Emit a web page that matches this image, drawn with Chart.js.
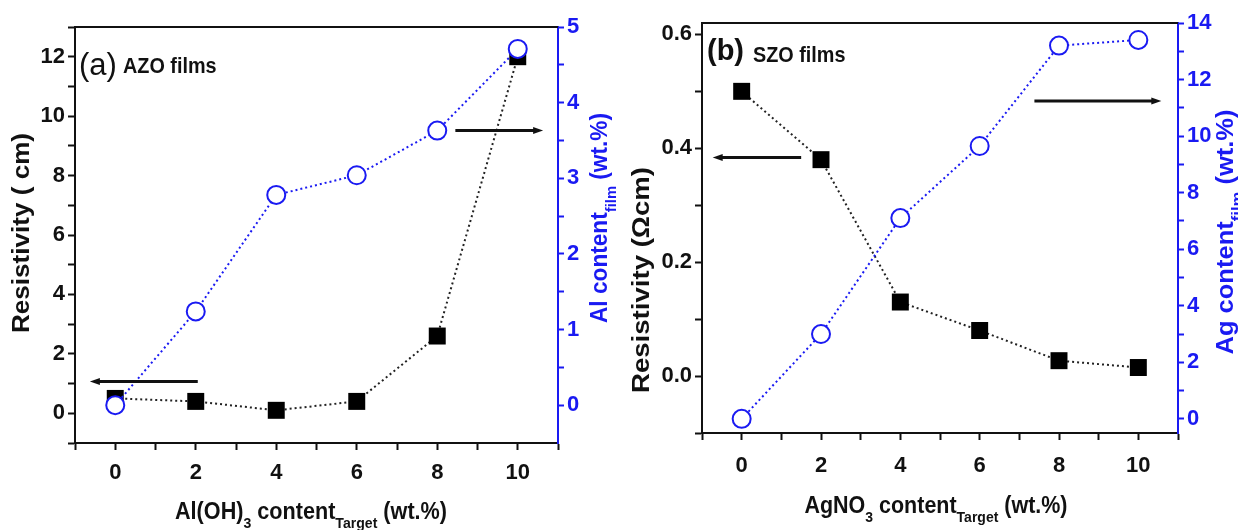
<!DOCTYPE html>
<html>
<head>
<meta charset="utf-8">
<script src="https://cdn.jsdelivr.net/npm/chart.js@4.4.1/dist/chart.umd.min.js"></script>
<style>
  html, body { margin: 0; padding: 0; background: #fff; }
  #wrap { position: relative; width: 1238px; height: 530px; }
  canvas { position: absolute; top: 0; }
  #chartA { left: 0; }
  #chartB { left: 619px; }
</style>
</head>
<body>
<div id="wrap">
  <canvas id="chartA" width="619" height="530"></canvas>
  <canvas id="chartB" width="619" height="530"></canvas>
</div>
<script>
const xValues = [0, 2, 4, 6, 8, 10];

const azoResistivity = [0.5, 0.4, 0.1, 0.4, 2.6, 12];
const azoAlContent = [0, 1.24, 2.78, 3.04, 3.63, 4.71];

const szoResistivity = [0.5, 0.38, 0.13, 0.08, 0.027, 0.015];
const szoAgContent = [0, 3.0, 7.1, 9.65, 13.2, 13.4];

// tick positions (minor + major) and the ones that get a label
const xTicks = [-1, 0, 1, 2, 3, 4, 5, 6, 7, 8, 9, 10, 11];
const xTickLabels = [0, 2, 4, 6, 8, 10];
const azoResTicks = [-1, 0, 1, 2, 3, 4, 5, 6, 7, 8, 9, 10, 11, 12, 13];
const azoResLabels = [0, 2, 4, 6, 8, 10, 12];
const azoAlTicks = [0, 0.5, 1, 1.5, 2, 2.5, 3, 3.5, 4, 4.5, 5];
const azoAlLabels = [0, 1, 2, 3, 4, 5];
const szoResTicks = [-0.1, 0, 0.1, 0.2, 0.3, 0.4, 0.5, 0.6];
const szoResLabels = [0, 0.2, 0.4, 0.6];
const szoAgTicks = [0, 1, 2, 3, 4, 5, 6, 7, 8, 9, 10, 11, 12, 13, 14];
const szoAgLabels = [0, 2, 4, 6, 8, 10, 12, 14];

// arrows in data units: from x0 to x1 at height y on the given axis
const azoArrows = [
  { x0: 2.05, x1: -0.63, y: 1.07, axis: "y" },
  { x0: 8.45, x1: 10.63, y: 3.63, axis: "y1" },
];
const szoArrows = [
  { x0: 1.5, x1: -0.73, y: 0.384, axis: "y" },
  { x0: 7.38, x1: 10.58, y: 11.24, axis: "y1" },
];

const FONT = '"Liberation Sans", Arial, sans-serif';
const BLUE = "#1a1af2";

function points(ys) {
  return xValues.map((x, i) => ({ x: x, y: ys[i] }));
}

function hasLabel(list, v) {
  return list.some((l) => Math.abs(l - v) < 1e-9);
}

// text with subscripts, stretched along its direction to a given length
function drawRich(ctx, parts, x, y, angle, color, len) {
  ctx.save();
  ctx.translate(x, y);
  ctx.rotate(angle);
  ctx.fillStyle = color;
  ctx.textBaseline = "alphabetic";
  ctx.textAlign = "left";
  let w = 0;
  parts.forEach((p) => {
    ctx.font = p[1] ? "bold 15px " + FONT : "bold 23px " + FONT;
    w += ctx.measureText(p[0]).width;
  });
  if (len) ctx.scale(len / w, 1);
  let cx = -w / 2;
  parts.forEach((p) => {
    ctx.font = p[1] ? "bold 15px " + FONT : "bold 23px " + FONT;
    ctx.fillText(p[0], cx, p[1] ? 9 : 0);
    cx += ctx.measureText(p[0]).width;
  });
  ctx.restore();
}

function drawArrow(ctx, xa, xb, y) {
  const dir = xb > xa ? 1 : -1;
  ctx.save();
  ctx.strokeStyle = "#111";
  ctx.fillStyle = "#111";
  ctx.lineWidth = 3;
  ctx.beginPath();
  ctx.moveTo(xa, y);
  ctx.lineTo(xb - dir * 6, y);
  ctx.stroke();
  ctx.beginPath();
  ctx.moveTo(xb, y);
  ctx.lineTo(xb - dir * 10, y - 3.5);
  ctx.lineTo(xb - dir * 10, y + 3.5);
  ctx.closePath();
  ctx.fill();
  ctx.restore();
}

const decorations = {
  id: "decorations",
  afterDraw(chart, args, opts) {
    const ctx = chart.ctx;
    const area = chart.chartArea;
    const sx = chart.scales.x;

    // top frame line
    ctx.save();
    ctx.strokeStyle = "#111";
    ctx.lineWidth = 2;
    ctx.beginPath();
    ctx.moveTo(area.left, area.top);
    ctx.lineTo(area.right, area.top);
    ctx.stroke();
    ctx.restore();

    opts.arrows.forEach((a) => {
      const sy = chart.scales[a.axis];
      drawArrow(ctx, sx.getPixelForValue(a.x0), sx.getPixelForValue(a.x1), sy.getPixelForValue(a.y));
    });

    // panel label
    ctx.save();
    ctx.fillStyle = "#111";
    ctx.font = opts.tag.font + " " + FONT;
    ctx.fillText(opts.tag.text, opts.tag.x, opts.tag.y);
    ctx.translate(opts.name.x, opts.name.y);
    ctx.scale(0.9, 1);
    ctx.font = "bold 22px " + FONT;
    ctx.fillText(opts.name.text, 0, 0);
    ctx.restore();

    const t = opts.titles;
    drawRich(ctx, t.x.parts, t.x.x, t.x.y, 0, "#111", t.x.len);
    drawRich(ctx, t.y.parts, t.y.x, t.y.y, -Math.PI / 2, "#111", t.y.len);
    drawRich(ctx, t.y1.parts, t.y1.x, t.y1.y, -Math.PI / 2, BLUE, t.y1.len);
  },
};

function makePanel(id, p) {
  const tickFont = { family: FONT, size: 22, weight: "bold" };
  return new Chart(id, {
    type: "line",
    data: {
      datasets: [
        {
          data: points(p.content),
          yAxisID: "y1",
          borderColor: BLUE,
          borderWidth: 2,
          borderDash: [2, 3],
          tension: 0,
          pointStyle: "circle",
          pointRadius: 9,
          pointBorderWidth: 2,
          pointBorderColor: BLUE,
          pointBackgroundColor: "#fff",
          order: 0,
        },
        {
          data: points(p.resistivity),
          yAxisID: "y",
          borderColor: "#222",
          borderWidth: 2,
          borderDash: [2, 3],
          tension: 0,
          pointStyle: "rect",
          pointRadius: 12,
          pointBorderWidth: 0,
          pointBackgroundColor: "#000",
          order: 1,
        },
      ],
    },
    options: {
      responsive: false,
      animation: false,
      devicePixelRatio: 1,
      events: [],
      layout: { padding: { top: p.top, left: 0, right: 0, bottom: 0 } },
      plugins: {
        legend: { display: false },
        tooltip: { enabled: false },
        decorations: p.deco,
      },
      scales: {
        x: {
          type: "linear",
          min: -1,
          max: 11,
          afterBuildTicks: (s) => { s.ticks = xTicks.map((v) => ({ value: v })); },
          afterFit: (s) => { s.height = 530 - p.bottom; },
          grid: { drawOnChartArea: false, tickLength: 7, tickColor: "#111", tickWidth: 2 },
          border: { color: "#111", width: 2 },
          ticks: {
            autoSkip: false,
            maxRotation: 0,
            padding: p.xPad,
            color: "#111",
            font: tickFont,
            callback: (v) => (hasLabel(xTickLabels, v) ? String(v) : ""),
          },
        },
        y: {
          type: "linear",
          position: "left",
          min: p.yMin,
          max: p.yMax,
          afterBuildTicks: (s) => { s.ticks = p.yTicks.map((v) => ({ value: v })); },
          afterFit: (s) => { s.width = p.left; },
          grid: { drawOnChartArea: false, tickLength: 7, tickColor: "#111", tickWidth: 2 },
          border: { color: "#111", width: 2 },
          ticks: {
            autoSkip: false,
            padding: 3,
            color: "#111",
            font: tickFont,
            callback: (v) => (hasLabel(p.yLabels, v) ? p.yFmt(v) : ""),
          },
        },
        y1: {
          type: "linear",
          position: "right",
          min: p.y1Min,
          max: p.y1Max,
          afterBuildTicks: (s) => { s.ticks = p.y1Ticks.map((v) => ({ value: v })); },
          afterFit: (s) => { s.width = 619 - p.right; },
          grid: { drawOnChartArea: false, tickLength: 6, tickColor: BLUE, tickWidth: 2 },
          border: { color: BLUE, width: 2 },
          ticks: {
            autoSkip: false,
            padding: 3,
            color: BLUE,
            font: tickFont,
            callback: (v) => (hasLabel(p.y1Labels, v) ? String(v) : ""),
          },
        },
      },
    },
    plugins: [decorations],
  });
}

makePanel("chartA", {
  content: azoAlContent,
  resistivity: azoResistivity,
  top: 27, bottom: 443, left: 75, right: 558, xPad: 10,
  yMin: -1, yMax: 13, yTicks: azoResTicks, yLabels: azoResLabels, yFmt: (v) => String(v),
  y1Min: -0.5, y1Max: 5, y1Ticks: azoAlTicks, y1Labels: azoAlLabels,
  deco: {
    arrows: azoArrows,
    tag: { text: "(a)", font: "31px", x: 79, y: 75 },
    name: { text: "AZO films", x: 123, y: 73 },
    titles: {
      x: { parts: [["Al(OH)"], ["3", 1], [" content"], ["Target", 1], [" (wt.%)"]], x: 311, y: 519, len: 272 },
      y: { parts: [["Resistivity ( cm)"]], x: 29, y: 233, len: 200 },
      y1: { parts: [["Al content"], ["film", 1], [" (wt.%)"]], x: 607, y: 218, len: 210 },
    },
  },
});

makePanel("chartB", {
  content: szoAgContent,
  resistivity: szoResistivity,
  top: 23, bottom: 433, left: 83, right: 559, xPad: 13,
  yMin: -0.1, yMax: 0.62, yTicks: szoResTicks, yLabels: szoResLabels, yFmt: (v) => v.toFixed(1),
  y1Min: -0.5, y1Max: 14, y1Ticks: szoAgTicks, y1Labels: szoAgLabels,
  deco: {
    arrows: szoArrows,
    tag: { text: "(b)", font: "bold 29px", x: 88, y: 60 },
    name: { text: "SZO films", x: 134, y: 62 },
    titles: {
      x: { parts: [["AgNO"], ["3", 1], [" content"], ["Target", 1], [" (wt.%)"]], x: 317, y: 513, len: 263 },
      y: { parts: [["Resistivity (Ωcm)"]], x: 30, y: 280, len: 226 },
      y1: { parts: [["Ag content"], ["film", 1], [" (wt.%)"]], x: 614, y: 232, len: 245 },
    },
  },
});
</script>
</body>
</html>
